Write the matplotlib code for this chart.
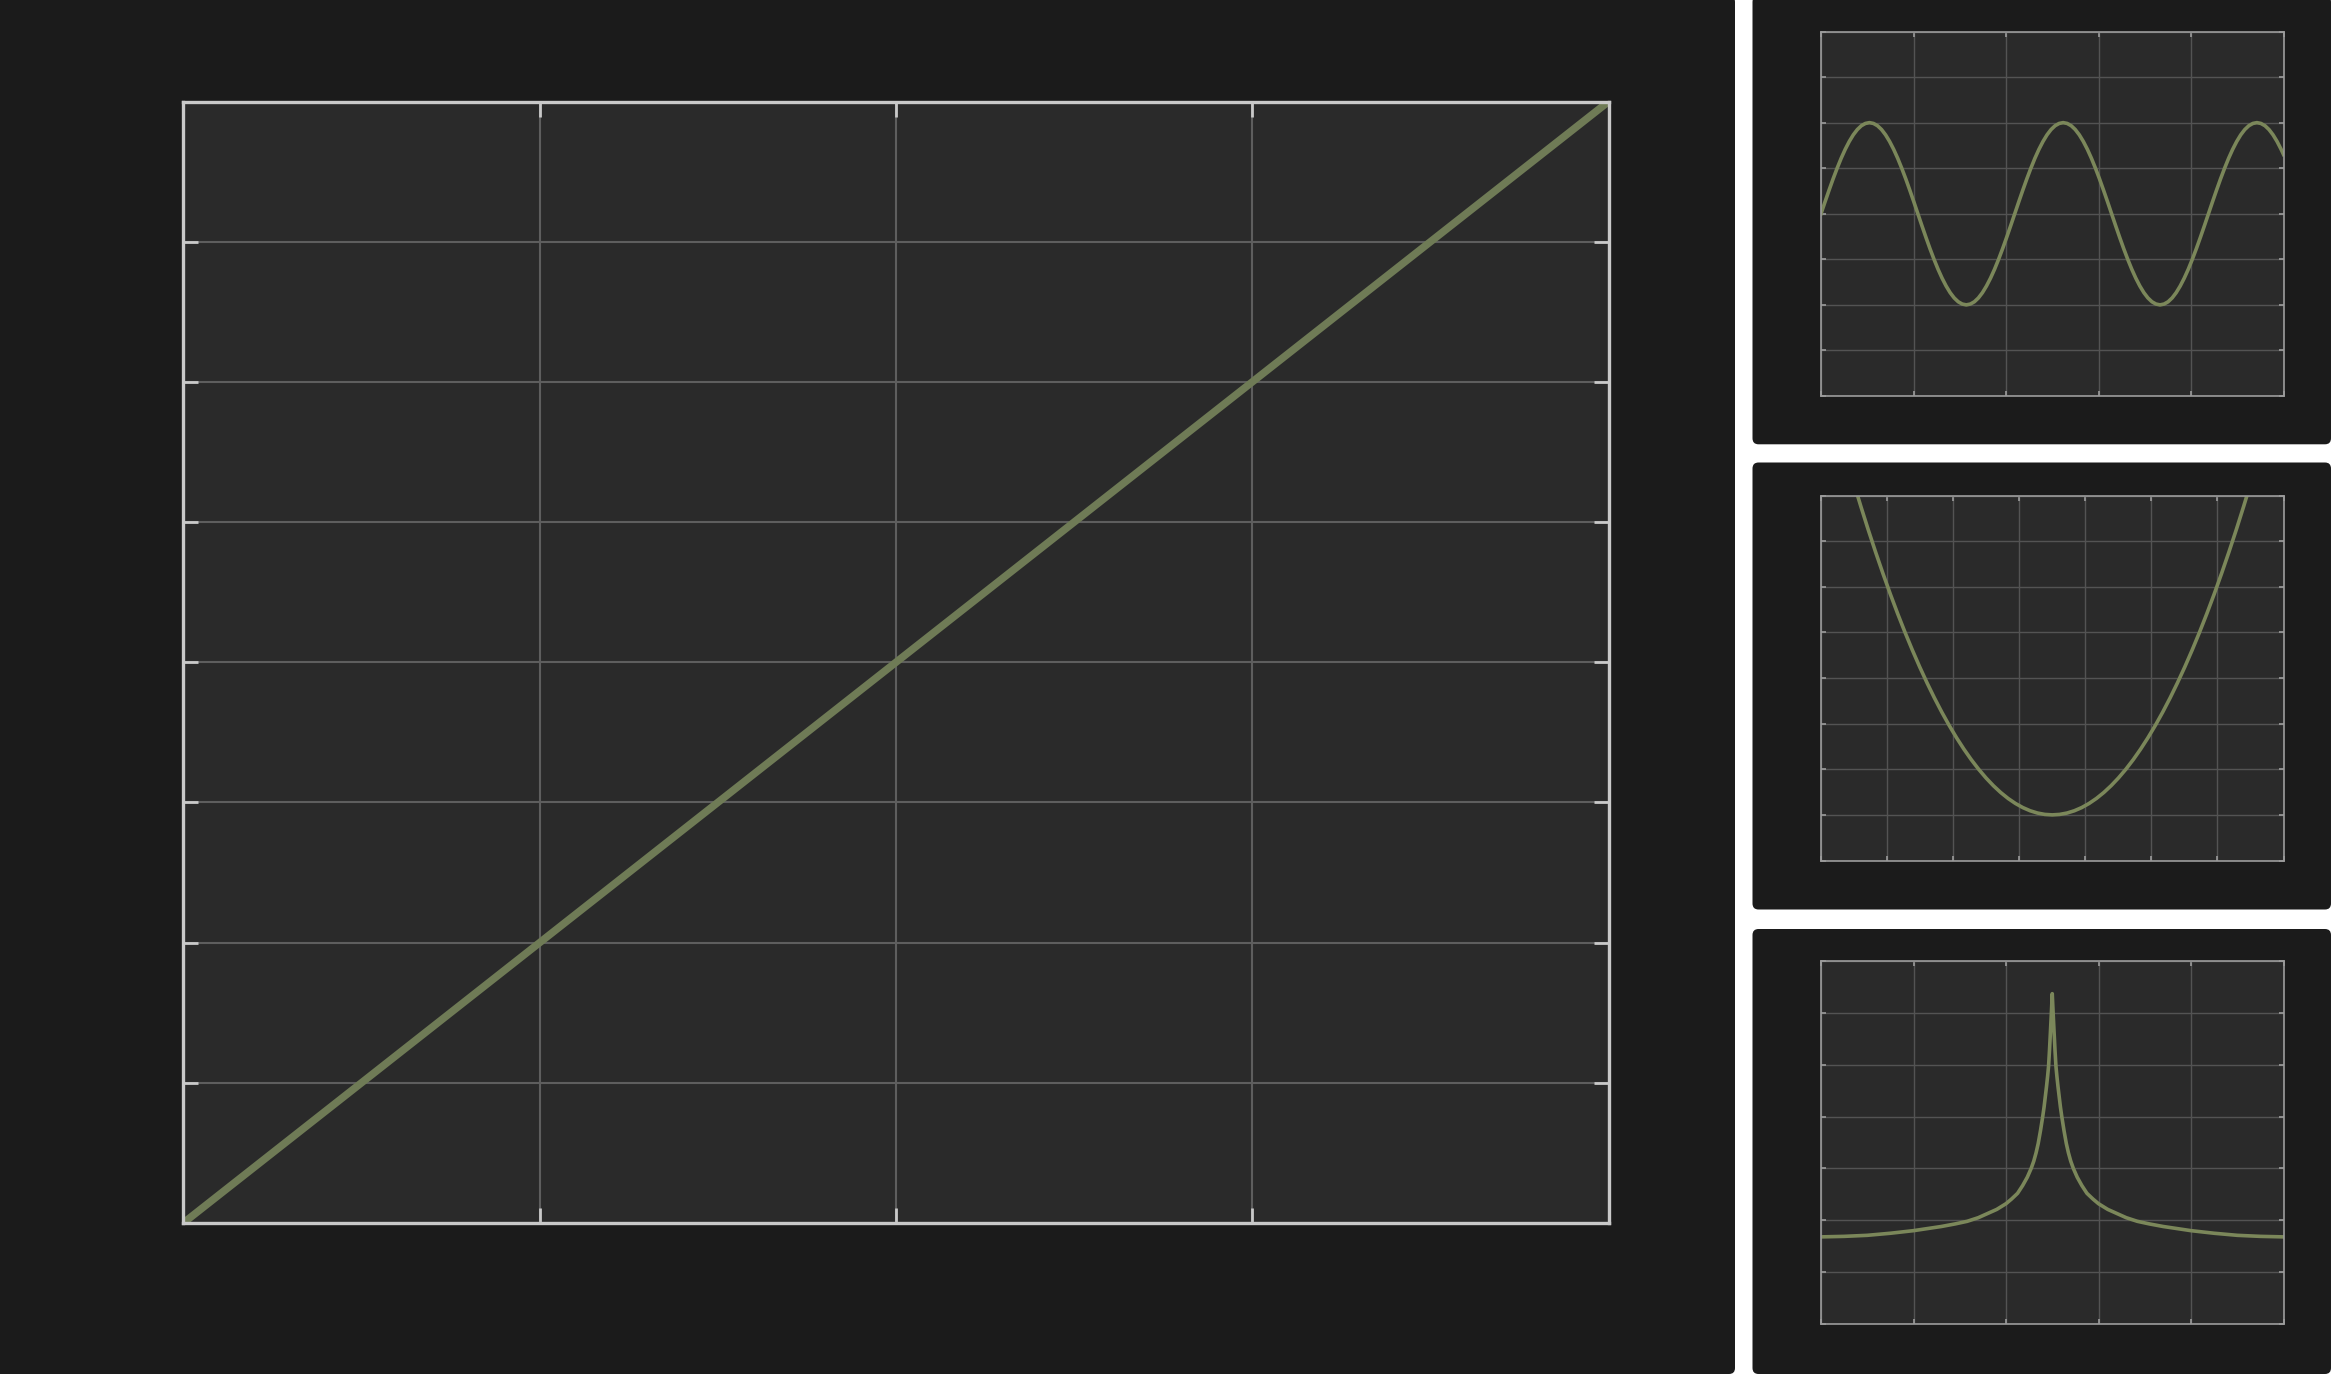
import matplotlib
matplotlib.use("Agg")
import matplotlib.pyplot as plt
import numpy as np
from matplotlib.patches import FancyBboxPatch
from matplotlib.transforms import IdentityTransform

# ---------------- data ----------------
# main panel: straight line from bottom-left to top-right
main_x = [0, 4]
main_y = [0, 8]

# panel 1: sine wave, x in 7.5-degree steps
sine_x = [0, 1, 2, 3, 4, 5, 6, 7, 8, 9, 10, 11, 12, 13, 14, 15, 16, 17, 18, 19,
          20, 21, 22, 23, 24, 25, 26, 27, 28, 29, 30, 31, 32, 33, 34, 35, 36, 37, 38, 39,
          40, 41, 42, 43, 44, 45, 46, 47, 48, 49, 50, 51, 52, 53, 54, 55, 56, 57, 58, 59,
          60, 61, 62, 63, 64, 65, 66, 67, 68, 69, 70, 71, 72, 73, 74, 75, 76, 77, 78, 79,
          80, 81, 82, 83, 84, 85, 86, 87, 88, 89, 90, 91, 92, 93, 94, 95, 96, 97, 98, 99,
          100, 101, 102, 103, 104, 105, 106, 107, 108, 109, 110, 111, 112, 113, 114, 114.592]
sine_y = [0, .131, .259, .383, .5, .609, .707, .793, .866, .924, .966, .991,
          1, .991, .966, .924, .866, .793, .707, .609, .5, .383, .259, .131,
          0, -.131, -.259, -.383, -.5, -.609, -.707, -.793, -.866, -.924, -.966, -.991,
          -1, -.991, -.966, -.924, -.866, -.793, -.707, -.609, -.5, -.383, -.259, -.131,
          0, .131, .259, .383, .5, .609, .707, .793, .866, .924, .966, .991,
          1, .991, .966, .924, .866, .793, .707, .609, .5, .383, .259, .131,
          0, -.131, -.259, -.383, -.5, -.609, -.707, -.793, -.866, -.924, -.966, -.991,
          -1, -.991, -.966, -.924, -.866, -.793, -.707, -.609, -.5, -.383, -.259, -.131,
          0, .131, .259, .383, .5, .609, .707, .793, .866, .924, .966, .991,
          1, .991, .966, .924, .866, .793, .707, .650]

# panel 2: parabola
para_x = [-2.7, -2.6, -2.5, -2.4, -2.3, -2.2, -2.1, -2.0, -1.9, -1.8, -1.7, -1.6, -1.5, -1.4,
          -1.3, -1.2, -1.1, -1.0, -0.9, -0.8, -0.7, -0.6, -0.5, -0.4, -0.3, -0.2, -0.1, 0.0,
          0.1, 0.2, 0.3, 0.4, 0.5, 0.6, 0.7, 0.8, 0.9, 1.0, 1.1, 1.2, 1.3, 1.4,
          1.5, 1.6, 1.7, 1.8, 1.9, 2.0, 2.1, 2.2, 2.3, 2.4, 2.5, 2.6, 2.7]
para_y = [7.29, 6.76, 6.25, 5.76, 5.29, 4.84, 4.41, 4.00, 3.61, 3.24, 2.89, 2.56, 2.25, 1.96,
          1.69, 1.44, 1.21, 1.00, 0.81, 0.64, 0.49, 0.36, 0.25, 0.16, 0.09, 0.04, 0.01, 0.00,
          0.01, 0.04, 0.09, 0.16, 0.25, 0.36, 0.49, 0.64, 0.81, 1.00, 1.21, 1.44, 1.69, 1.96,
          2.25, 2.56, 2.89, 3.24, 3.61, 4.00, 4.41, 4.84, 5.29, 5.76, 6.25, 6.76, 7.29]

# panel 3: sharp spike
spike_x = [-2.5, -2.25, -2.0, -1.75, -1.5, -1.35, -1.2, -1.05, -0.92, -0.8, -0.7, -0.6,
           -0.5, -0.44, -0.375, -0.32, -0.27, -0.228, -0.2, -0.175, -0.152, -0.127, -0.103,
           -0.088, -0.074, -0.062, -0.05, -0.04, -0.03, -0.02, -0.01, 0.0,
           0.01, 0.02, 0.03, 0.04, 0.05, 0.062, 0.074, 0.088, 0.103, 0.127, 0.152, 0.175,
           0.2, 0.228, 0.27, 0.32, 0.375, 0.44, 0.5, 0.6, 0.7, 0.8, 0.92, 1.05, 1.2, 1.35,
           1.5, 1.75, 2.0, 2.25, 2.5]
spike_y = [1.68, 1.69, 1.71, 1.75, 1.80, 1.84, 1.88, 1.93, 1.98, 2.05, 2.13, 2.21,
           2.32, 2.41, 2.52, 2.67, 2.83, 3.00, 3.14, 3.30, 3.48, 3.73, 4.00,
           4.19, 4.40, 4.58, 4.78, 4.97, 5.27, 5.62, 5.98, 6.37,
           5.98, 5.62, 5.27, 4.97, 4.78, 4.58, 4.40, 4.19, 4.00, 3.73, 3.48, 3.30,
           3.14, 3.00, 2.83, 2.67, 2.52, 2.41, 2.32, 2.21, 2.13, 2.05, 1.98, 1.93, 1.88, 1.84,
           1.80, 1.75, 1.71, 1.69, 1.68]

# ---------------- style ----------------
W, H, DPI = 2334, 1374, 200
PANEL = "#1b1b1b"
AX_BG = "#2a2a2a"
LINE_MAIN = "#6f7b56"
LINE_SMALL = "#7b875a"

fig = plt.figure(figsize=(W / DPI, H / DPI), dpi=DPI, facecolor="white")


def panel(x0, y_top, x1, y_bot):
    p = FancyBboxPatch((x0, H - y_bot), x1 - x0, y_bot - y_top,
                       boxstyle="round,pad=0,rounding_size=6",
                       transform=IdentityTransform(), facecolor=PANEL,
                       edgecolor="none", zorder=-10)
    fig.add_artist(p)


panel(-10, -4, 1735, 1374)
panel(1752.5, -4, 2331, 444.3)
panel(1752.5, 462.5, 2331, 909.5)
panel(1752.5, 929, 2331, 1374)


def px_axes(x0, y_top, x1, y_bot):
    return fig.add_axes([x0 / W, (H - y_bot) / H, (x1 - x0) / W, (y_bot - y_top) / H])


def style(ax, xlim, ylim, nx, ny, grid_c, grid_w, spine_c, spine_w, tick_len, tick_w):
    ax.set_facecolor(AX_BG)
    ax.set_xlim(*xlim)
    ax.set_ylim(*ylim)
    ax.set_xticks(np.linspace(xlim[0], xlim[1], nx + 1))
    ax.set_yticks(np.linspace(ylim[0], ylim[1], ny + 1))
    ax.grid(True, color=grid_c, linewidth=grid_w)
    for s in ax.spines.values():
        s.set_color(spine_c)
        s.set_linewidth(spine_w)
    ax.tick_params(which="both", direction="in", top=True, right=True,
                   bottom=True, left=True, labelbottom=False, labelleft=False,
                   length=tick_len, width=tick_w, color=spine_c)


# main axes
ax0 = px_axes(183.3, 101.5, 1608.7, 1223)
style(ax0, (0, 4), (0, 8), 4, 8, "#5e5e5e", 0.75, "#c9c9c9", 1.2, 5.4, 1.0)
ax0.plot(main_x, main_y, color=LINE_MAIN, linewidth=2.7)

# small axes
ax1 = px_axes(1821, 31.5, 2283.5, 396)
style(ax1, (0, 114.592), (-2, 2), 5, 8, "#535353", 0.5, "#9c9c9c", 0.6, 1.8, 0.6)
ax1.plot(sine_x, sine_y, color=LINE_SMALL, linewidth=1.3)

ax2 = px_axes(1821, 495.5, 2283.5, 860.5)
style(ax2, (-3.1416, 3.1416), (-1, 7), 7, 8, "#535353", 0.5, "#9c9c9c", 0.6, 1.8, 0.6)
ax2.plot(para_x, para_y, color=LINE_SMALL, linewidth=1.3)

ax3 = px_axes(1821, 961, 2283.5, 1324)
style(ax3, (-2.5, 2.5), (0, 7), 5, 7, "#535353", 0.5, "#9c9c9c", 0.6, 1.8, 0.6)
ax3.plot(spike_x, spike_y, color=LINE_SMALL, linewidth=1.3)

fig.savefig("out.png", dpi=DPI, facecolor="white")
